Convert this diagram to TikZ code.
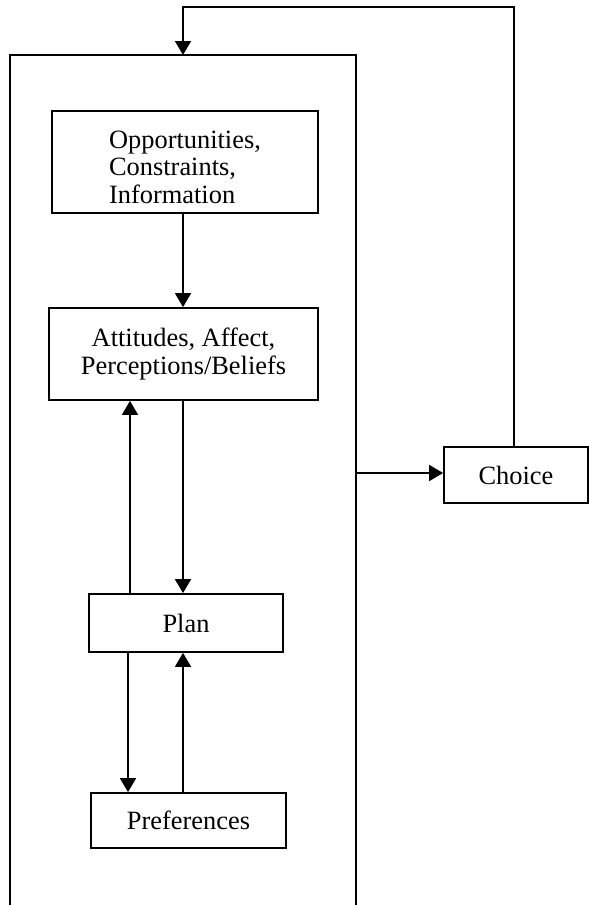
\documentclass[tikz,border=0pt]{standalone}
\usepackage{fontspec}
\setmainfont{Liberation Serif}
\usetikzlibrary{arrows.meta}
\tikzset{
  box/.style={draw, line width=0.9pt, inner sep=0pt, align=center},
  link/.style={line width=0.85pt, -{Triangle[length=7pt,width=8pt]}},
}
\begin{document}
\begin{tikzpicture}[x=0.5pt, y=-0.5pt, font=\fontsize{13.2pt}{13.6pt}\selectfont, line join=miter]
	\useasboundingbox (0,0) rectangle (589,905);
	% outer frame, open at the bottom
	\coordinate (frameTL) at (10,55);
	\coordinate (frameTR) at (356,55);
	\draw[line width=1.2pt] (10,905) -- (frameTL) -- (frameTR) -- (356,905);
	% boxes
	\node[box, minimum width=133pt, minimum height=51pt] (opp) at (185,162)
		{\begin{tabular}{@{}l@{}}\rule{0pt}{18pt}Opportunities,\\Constraints,\\Information\end{tabular}};
	\node[box, minimum width=134.5pt, minimum height=46pt] (att) at (183.5,354)
		{Attitudes, Affect,\\Perceptions/Beliefs};
	\node[box, minimum width=97pt, minimum height=29pt] (plan) at (186,623) {Plan};
	\node[box, minimum width=97.5pt, minimum height=27.5pt] (pref) at (188.5,820.5) {Preferences};
	\node[box, minimum width=72pt, minimum height=28pt] (choice) at (516,475) {Choice};
	% columns for the paired arrows
	\coordinate (midcol) at (183,0);
	\coordinate (lftcol) at (130,0);
	\coordinate (lowcol) at (128,0);
	\coordinate (outR) at (356,473);
	\coordinate (topL) at (183,7);
	\coordinate (topR) at (514,7);
	% arrows
	\draw[link] (opp.south -| midcol) -- (att.north -| midcol);
	\draw[link] (att.south -| midcol) -- (plan.north -| midcol);
	\draw[link] (plan.north -| lftcol) -- (att.south -| lftcol);
	\draw[link] (plan.south -| lowcol) -- (pref.north -| lowcol);
	\draw[link] (pref.north -| midcol) -- (plan.south -| midcol);
	\draw[link] (outR) -- (choice.west |- outR);
	\draw[link] (choice.north -| topR) -- (topR) -- (topL) -- (frameTL -| topL);
\end{tikzpicture}
\end{document}
